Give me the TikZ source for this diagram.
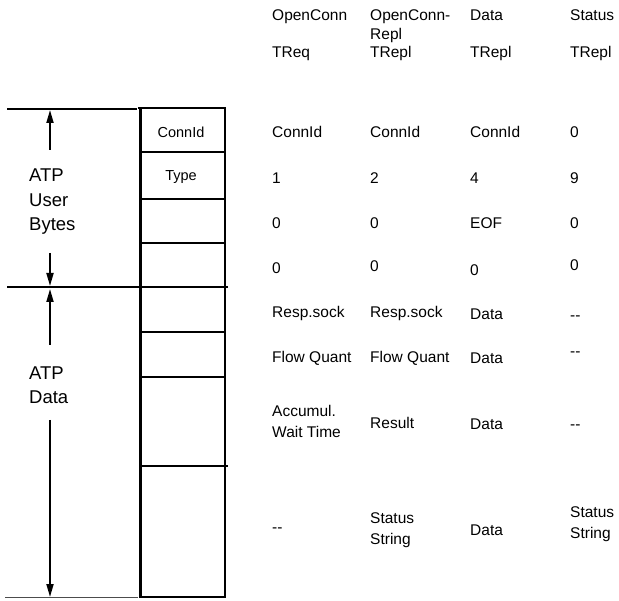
\documentclass[tikz,border=0pt]{standalone}
\usepackage{fontspec}
\setmainfont{Liberation Sans}
\usetikzlibrary{arrows.meta}
\begin{document}
\begin{tikzpicture}[x=1pt,y=-1pt,
  cell/.style={font=\fontsize{15.5}{17}\selectfont, anchor=west, inner sep=0pt,
               text height=11pt, text depth=0pt},
  cellml/.style={font=\fontsize{15.5}{21}\selectfont, anchor=west, inner sep=0pt, align=left},
  boxtxt/.style={font=\fontsize{14.5}{16}\selectfont, inner sep=0pt},
  sidelbl/.style={font=\fontsize{18.5}{24.5}\selectfont, anchor=west, inner sep=0pt, align=left},
  rowline/.style={line width=1.6pt},
  heavyline/.style={line width=2.8pt},
  dimarrow/.style={line width=1.8pt, -{Triangle[length=13pt,width=7pt]}}]
\useasboundingbox (0,0) rectangle (619,601);

% ---- packet frame ----
\draw[line width=3pt] (140,108) -- (140,597);
\draw[line width=2.5pt] (225,108) -- (225,597);
\draw[rowline] (138,108) -- (226,108);
\draw[rowline] (140,152) -- (225,152);
\draw[rowline] (140,199) -- (225,199);
\draw[rowline] (140,243) -- (225,243);
\draw[rowline] (140,332) -- (225,332);
\draw[rowline] (140,377) -- (225,377);
\draw[heavyline] (140,466) -- (228,466);
\draw[rowline] (139,597) -- (226,597);

% ---- extension lines on the left ----
\draw[line width=1.6pt] (7,109) -- (137,109);
\draw[heavyline] (7,287) -- (228,287);
\draw[line width=1pt, black!70] (5,597) -- (138,597);

\node[boxtxt] (bconn) at (181,132) {ConnId};
\node[boxtxt] (btype) at (181,177) {Type};

% ---- side labels with dimension arrows ----
\node[sidelbl] (ub) at (29,202) {ATP\\User\\Bytes};
\node[sidelbl] (ad) at (29,385) {ATP\\Data};
\coordinate (ubtop) at (50,110);
\coordinate (ubtail1) at (50,150);
\coordinate (ubtail2) at (50,253);
\coordinate (ubbot) at (50,286);
\coordinate (adtop) at (50,289);
\coordinate (adtail1) at (50,345);
\coordinate (adtail2) at (50,420);
\coordinate (adbot) at (50,597);
\draw[dimarrow] (ubtail1) -- (ubtop);
\draw[dimarrow] (ubtail2) -- (ubbot);
\draw[dimarrow] (adtail1) -- (adtop);
\draw[dimarrow] (adtail2) -- (adbot);

% ---- column headers ----
\node[cell] (h1a) at (272,15) {OpenConn};
\node[cell] (h1b) at (272,52) {TReq};
\node[cell] (h2a) at (370,15) {OpenConn-};
\node[cell] (h2c) at (370,34) {Repl};
\node[cell] (h2b) at (370,52) {TRepl};
\node[cell] (h3a) at (470,15) {Data};
\node[cell] (h3b) at (470,52) {TRepl};
\node[cell] (h4a) at (570,15) {Status};
\node[cell] (h4b) at (570,52) {TRepl};

% ---- ATP user bytes ----
\node[cell] (a1) at (272,132) {ConnId};
\node[cell] (a2) at (370,132) {ConnId};
\node[cell] (a3) at (470,132) {ConnId};
\node[cell] (a4) at (570,132) {0};

\node[cell] (b1) at (272,178) {1};
\node[cell] (b2) at (370,178) {2};
\node[cell] (b3) at (470,178) {4};
\node[cell] (b4) at (570,178) {9};

\node[cell] (c1) at (272,223) {0};
\node[cell] (c2) at (370,223) {0};
\node[cell] (c3) at (470,223) {EOF};
\node[cell] (c4) at (570,223) {0};

\node[cell] (d1) at (272,268) {0};
\node[cell] (d2) at (370,266) {0};
\node[cell] (d3) at (470,270) {0};
\node[cell] (d4) at (570,265) {0};

% ---- ATP data ----
\node[cell] (e1) at (272,312) {Resp.sock};
\node[cell] (e2) at (370,312) {Resp.sock};
\node[cell] (e3) at (470,314) {Data};
\node[cell] (e4) at (570,315) {-{}-};

\node[cell] (f1) at (272,357) {Flow Quant};
\node[cell] (f2) at (370,357) {Flow Quant};
\node[cell] (f3) at (470,358) {Data};
\node[cell] (f4) at (570,351) {-{}-};

\node[cellml] (g1) at (272,421) {Accumul.\\Wait Time};
\node[cell] (g2) at (370,423) {Result};
\node[cell] (g3) at (470,424) {Data};
\node[cell] (g4) at (570,424) {-{}-};

\node[cell] (k1) at (272,527) {-{}-};
\node[cellml] (k2) at (370,530) {Status\\String};
\node[cell] (k3) at (470,530) {Data};
\node[cellml] (k4) at (570,524) {Status\\String};
\end{tikzpicture}
\end{document}
